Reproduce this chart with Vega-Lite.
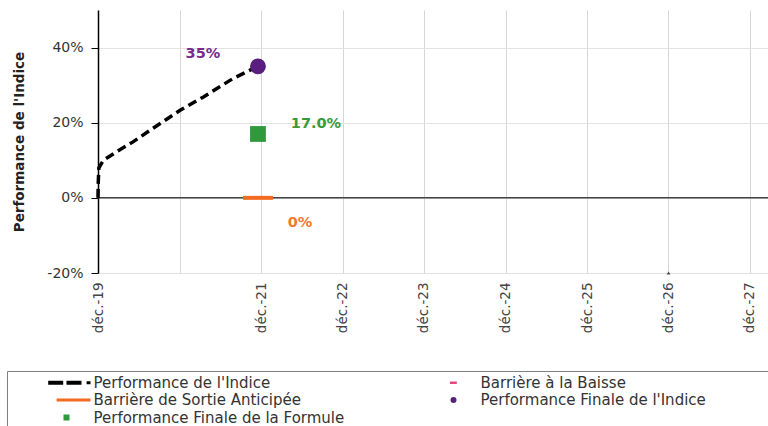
{
  "$schema": "https://vega.github.io/schema/vega-lite/v6.json",
  "width": 670,
  "height": 263,
  "autosize": {"type": "none"},
  "padding": {"left": 98, "top": 10, "right": 0, "bottom": 153},
  "background": "white",
  "config": {
    "view": {"stroke": null},
    "font": "DejaVu Sans",
    "legend": {
      "labelFont": "DejaVu Sans",
      "labelFontSize": 15,
      "labelColor": "#333333",
      "labelLimit": 800
    }
  },
  "datasets": {
    "perf": [
      {"date": "2019-12-15", "value": 0},
      {"date": "2019-12-16", "value": 4},
      {"date": "2019-12-19", "value": 8},
      {"date": "2020-01-08", "value": 10},
      {"date": "2020-03-08", "value": 12.3},
      {"date": "2020-05-20", "value": 14.9},
      {"date": "2020-08-17", "value": 18.5},
      {"date": "2020-12-17", "value": 23.3},
      {"date": "2021-03-30", "value": 26.8},
      {"date": "2021-08-12", "value": 31.8},
      {"date": "2021-12-01", "value": 35}
    ],
    "barrier": [
      {"date": "2021-09-25", "value": 0},
      {"date": "2022-02-06", "value": 0}
    ],
    "markers": [
      {"series": "Performance Finale de l'Indice", "date": "2021-12-01", "value": 35},
      {"series": "Performance Finale de la Formule", "date": "2021-12-01", "value": 17}
    ],
    "low": [
      {"date": "2026-12-15", "value": -20}
    ]
  },
  "layer": [
    {
      "data": {"values": [{"zero": 0}]},
      "mark": {"type": "rule", "color": "#444444", "strokeWidth": 1.5},
      "encoding": {"y": {"field": "zero", "type": "quantitative"}}
    },
    {
      "data": {"name": "perf"},
      "mark": {"type": "line", "color": "#000000", "strokeWidth": 3.5, "strokeDash": [9, 5]},
      "encoding": {
        "x": {
          "field": "date",
          "type": "temporal",
          "scale": {"domain": [{"year": 2019, "month": 12, "date": 15}, {"year": 2028, "month": 3, "date": 5}]},
          "axis": {
            "title": null,
            "values": [
              {"year": 2019, "month": 12, "date": 15},
              {"year": 2020, "month": 12, "date": 15},
              {"year": 2021, "month": 12, "date": 15},
              {"year": 2022, "month": 12, "date": 15},
              {"year": 2023, "month": 12, "date": 15},
              {"year": 2024, "month": 12, "date": 15},
              {"year": 2025, "month": 12, "date": 15},
              {"year": 2026, "month": 12, "date": 15},
              {"year": 2027, "month": 12, "date": 15}
            ],
            "labelExpr": "year(datum.value) == 2020 ? '' : 'déc.-' + timeFormat(datum.value, '%y')",
            "labelAngle": -90,
            "labelFontSize": 13.5,
            "labelColor": "#444444",
            "labelPadding": 9,
            "domain": false,
            "ticks": false,
            "grid": true,
            "gridColor": "#d6d6d6",
            "labelOverlap": false,
            "labelFlush": false
          }
        },
        "y": {
          "field": "value",
          "type": "quantitative",
          "scale": {"domain": [-20, 50], "nice": false},
          "axis": {
            "title": "Performance de l'Indice",
            "titleFontWeight": "bold",
            "titleFontSize": 13.5,
            "titleColor": "#222222",
            "titlePadding": 20,
            "values": [-20, 0, 20, 40],
            "labelExpr": "datum.value + '%'",
            "labelFontSize": 14,
            "labelColor": "#333333",
            "labelPadding": 8,
            "domain": true,
            "domainColor": "#000000",
            "domainWidth": 1.5,
            "ticks": true,
            "tickSize": 7,
            "tickColor": "#000000",
            "grid": true,
            "gridColor": "#e2e2e2"
          }
        }
      }
    },
    {
      "data": {"name": "barrier"},
      "mark": {"type": "line", "color": "#f26b21", "strokeWidth": 4},
      "encoding": {
        "x": {"field": "date", "type": "temporal"},
        "y": {"field": "value", "type": "quantitative"}
      }
    },
    {
      "data": {"name": "low"},
      "mark": {"type": "point", "shape": "triangle-up", "filled": true, "color": "#000000", "size": 14},
      "encoding": {
        "x": {"field": "date", "type": "temporal"},
        "y": {"field": "value", "type": "quantitative"}
      }
    },
    {
      "data": {"name": "markers"},
      "mark": {"type": "point", "filled": true, "opacity": 1, "size": 250},
      "encoding": {
        "x": {"field": "date", "type": "temporal"},
        "y": {"field": "value", "type": "quantitative"},
        "color": {
          "field": "series",
          "type": "nominal",
          "scale": {
            "domain": ["Performance de l'Indice", "Barrière de Sortie Anticipée", "Performance Finale de la Formule", "Barrière à la Baisse", "Performance Finale de l'Indice"],
            "range": ["#000000", "#f26b21", "#2e9a3c", "#e6427a", "#5a1f7e"]
          },
          "legend": {
            "title": null,
            "orient": "none",
            "legendX": -91,
            "legendY": 361,
            "columns": 2,
            "columnPadding": 53,
            "rowPadding": 1.5,
            "padding": 4,
            "strokeColor": "#808080",
            "fillColor": "#ffffff",
            "labelOffset": 19.5,
            "symbolOffset": 48,
            "symbolSize": 36,
            "labelExpr": "(length(datum.label) == 20 || length(datum.label) == 30) ? datum.label + '\u2800\u2800\u2800\u2800\u2800\u2800\u2800\u2800\u2800\u2800\u2800\u2800\u2800\u2800\u2800' : datum.label"
          }
        },
        "shape": {
          "field": "series",
          "type": "nominal",
          "scale": {
            "domain": ["Performance de l'Indice", "Barrière de Sortie Anticipée", "Performance Finale de la Formule", "Barrière à la Baisse", "Performance Finale de l'Indice"],
            "range": [
              "M-6.1,-0.67H-1.1V0.67H-6.1Z M0,-0.67H5V0.67H0Z M6.7,-0.5H8V0.5H6.7Z",
              "M-3.3,-0.5H8V0.5H-3.3Z",
              "square",
              "M-1.2,-0.4H1.1V0.4H-1.2Z",
              "circle"
            ]
          },
          "legend": {
            "title": null,
            "orient": "none",
            "legendX": -91,
            "legendY": 361,
            "columns": 2,
            "columnPadding": 53,
            "rowPadding": 1.5,
            "padding": 4,
            "strokeColor": "#808080",
            "fillColor": "#ffffff",
            "labelOffset": 19.5,
            "symbolOffset": 48,
            "symbolSize": 36,
            "labelExpr": "(length(datum.label) == 20 || length(datum.label) == 30) ? datum.label + '\u2800\u2800\u2800\u2800\u2800\u2800\u2800\u2800\u2800\u2800\u2800\u2800\u2800\u2800\u2800' : datum.label"
          }
        }
      }
    },
    {
      "data": {"values": [{"date": "2021-12-01", "value": 35, "label": "35%"}]},
      "mark": {"type": "text", "color": "#7a2a8c", "fontWeight": "bold", "fontSize": 14.5, "dx": -55, "dy": -12},
      "encoding": {
        "x": {"field": "date", "type": "temporal"},
        "y": {"field": "value", "type": "quantitative"},
        "text": {"field": "label"}
      }
    },
    {
      "data": {"values": [{"date": "2021-12-01", "value": 17, "label": "17.0%"}]},
      "mark": {"type": "text", "color": "#3a9a3a", "fontWeight": "bold", "fontSize": 14.5, "dx": 58, "dy": -10},
      "encoding": {
        "x": {"field": "date", "type": "temporal"},
        "y": {"field": "value", "type": "quantitative"},
        "text": {"field": "label"}
      }
    },
    {
      "data": {"values": [{"date": "2021-12-01", "value": 0, "label": "0%"}]},
      "mark": {"type": "text", "color": "#f07a30", "fontWeight": "bold", "fontSize": 14.5, "dx": 42, "dy": 25},
      "encoding": {
        "x": {"field": "date", "type": "temporal"},
        "y": {"field": "value", "type": "quantitative"},
        "text": {"field": "label"}
      }
    }
  ]
}
